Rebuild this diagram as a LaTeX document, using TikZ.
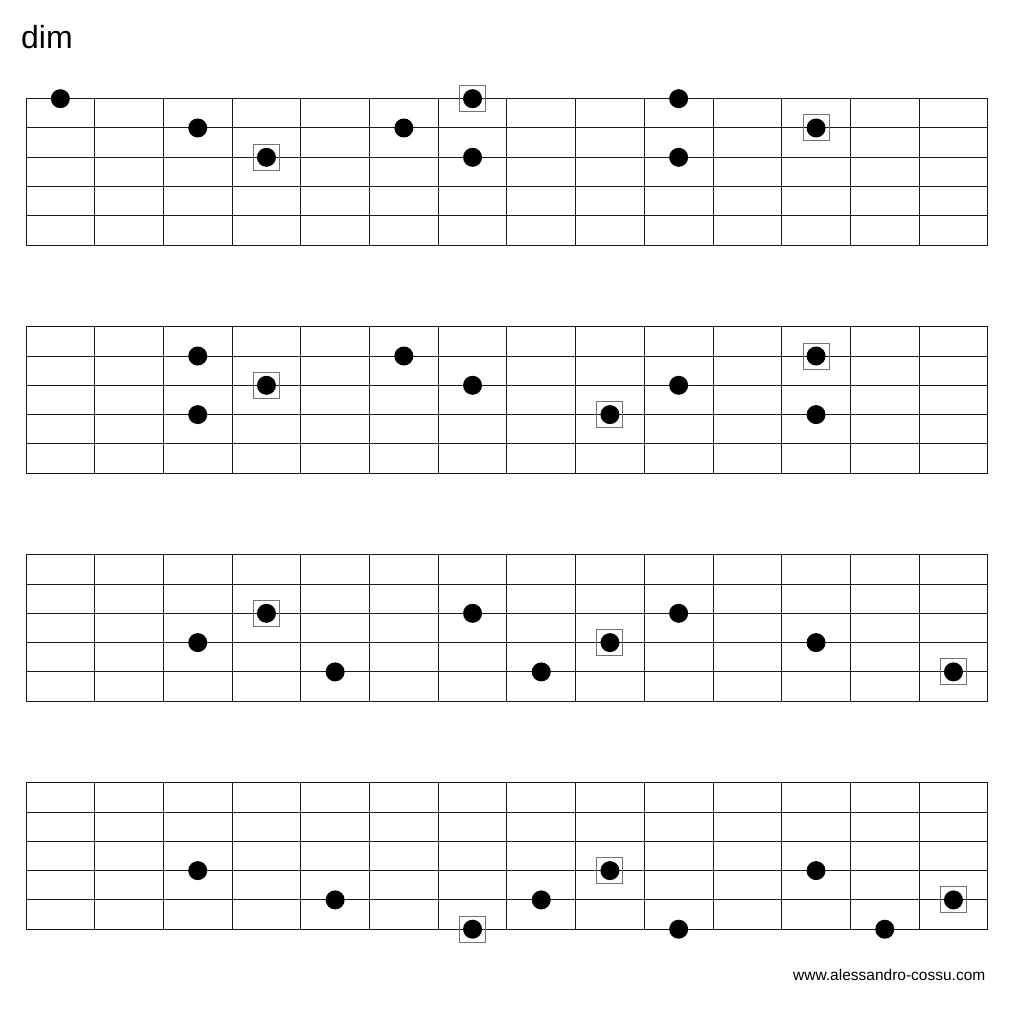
\documentclass[tikz,border=0pt]{standalone}
\usepackage{fontspec}
\setmainfont{Liberation Sans}
\usetikzlibrary{positioning}

\begin{document}
\begin{tikzpicture}[x=1pt, y=-1pt,
  fretline/.style={line width=1pt, draw=black!90},
  fingerdot/.style={circle, fill=black, minimum size=19pt, inner sep=0pt},
  rootbox/.style={draw=black!55, line width=1pt, minimum size=26pt, inner sep=0pt},
  titlelbl/.style={font=\fontsize{32}{38}\selectfont, anchor=base west, inner sep=0pt},
  creditlbl/.style={font=\fontsize{15.5}{18}\selectfont, anchor=base east, inner sep=0pt},
]
  \useasboundingbox (0,0) rectangle (1024,1008);

  \node[titlelbl] (title) at (21,49) {dim};

  % four fretboards: 6 strings, 14 frets
  \foreach \b in {0,...,3} {
    \foreach \s in {0,...,5}
      \draw[fretline] (26,{98.7+228*\b+29.3*\s}) -- (987.8,{98.7+228*\b+29.3*\s});
    \foreach \f in {0,...,14}
      \draw[fretline] ({26+68.7*\f},{98.7+228*\b}) -- ({26+68.7*\f},{98.7+228*\b+146.5});
  }

  % dots: fret/string/root
  \foreach \b/\pts in {
    0/{0/0/0, 2/1/0, 3/2/1, 5/1/0, 6/0/1, 6/2/0, 9/0/0, 9/2/0, 11/1/1},
    1/{2/1/0, 2/3/0, 3/2/1, 5/1/0, 6/2/0, 8/3/1, 9/2/0, 11/1/1, 11/3/0},
    2/{2/3/0, 3/2/1, 4/4/0, 6/2/0, 7/4/0, 8/3/1, 9/2/0, 11/3/0, 13/4/1},
    3/{2/3/0, 4/4/0, 6/5/1, 7/4/0, 8/3/1, 9/5/0, 11/3/0, 12/5/0, 13/4/1}} {
    \foreach \c/\s/\r in \pts {
      \ifnum\r=1
        \node[rootbox] (r\b-\c-\s) at ({26+68.7*(\c+0.5)},{98.7+228*\b+29.3*\s}) {};
      \fi
      \node[fingerdot] (d\b-\c-\s) at ({26+68.7*(\c+0.5)},{98.7+228*\b+29.3*\s}) {};
    }
  }

  \node[creditlbl] (credit) at (985.5,980) {www.alessandro-cossu.com};
\end{tikzpicture}
\end{document}
